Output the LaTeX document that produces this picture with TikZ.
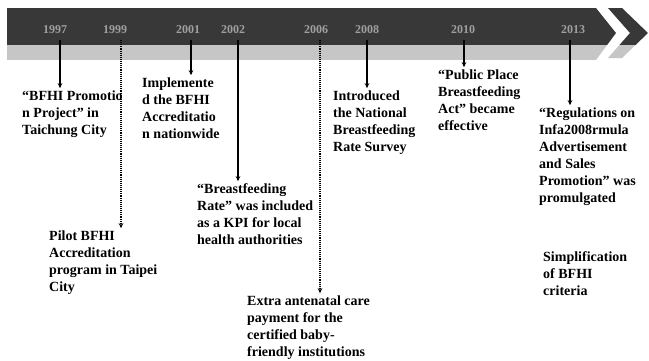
\documentclass[tikz,border=0pt]{standalone}
\usepackage{fontspec}
\setmainfont{Liberation Serif}
\usetikzlibrary{arrows.meta}
\definecolor{banddark}{HTML}{383838}
\definecolor{bandlight}{HTML}{C6C6C6}
\definecolor{yrcol}{HTML}{A0A0A0}
\begin{document}
\begin{tikzpicture}[x=1pt,y=-1pt,
  evt/.style={font=\bfseries\fontsize{14}{17}\selectfont, align=left, anchor=north west, inner sep=0pt},
  yr/.style={font=\bfseries\fontsize{12}{14}\selectfont, text=yrcol, inner sep=0pt},
  arr/.style={-{Stealth[length=5pt,width=4.5pt]}, line width=1.1pt, shorten >=2.5pt},
  darr/.style={arr, densely dotted, line width=1.3pt}]
\useasboundingbox (0,0) rectangle (649,360);
\fill[white] (0,0) rectangle (649,360);
% band
\begin{scope}
  \clip (7,8) -- (596,8) -- (616,33) -- (596,60) -- (7,60) -- cycle;
  \fill[banddark] (0,0) rectangle (649,45);
  \fill[bandlight] (0,45) rectangle (649,60);
\end{scope}
% chevron
\begin{scope}
  \clip (608,8) -- (622,8) -- (648,33) -- (622,58) -- (608,58) -- (630,33) -- cycle;
  \fill[banddark] (600,0) rectangle (649,45);
  \fill[bandlight] (600,45) rectangle (649,60);
\end{scope}
% years
\node[yr] (y1997) at (55,30) {1997};
\node[yr] (y1999) at (115,30) {1999};
\node[yr] (y2001) at (188,30) {2001};
\node[yr] (y2002) at (233,30) {2002};
\node[yr] (y2006) at (316,30) {2006};
\node[yr] (y2008) at (367,30) {2008};
\node[yr] (y2010) at (463,30) {2010};
\node[yr] (y2013) at (573,30) {2013};
% arrow starts
\coordinate (s1997) at (60,40);
\coordinate (s1999) at (121,40);
\coordinate (s2001) at (191,40);
\coordinate (s2002) at (238,40);
\coordinate (s2006) at (320,40);
\coordinate (s2008) at (367,40);
\coordinate (s2010) at (464,40);
\coordinate (s2013) at (570,40);
% events
\node[evt] (t1997) at (22,90.7) {“BFHI Promotio\\n Project” in\\Taichung City};
\node[evt] (t1999) at (49,230.7) {Pilot BFHI\\Accreditation\\program in Taipei\\City};
\node[evt] (t2001) at (142,77.7) {Implemente\\d the BFHI\\Accreditatio\\n nationwide};
\node[evt] (t2002) at (197,183.7) {“Breastfeeding\\Rate” was included\\as a KPI for local\\health authorities};
\node[evt] (t2006) at (247,295.7) {Extra antenatal care\\payment for the\\certified baby-\\friendly institutions};
\node[evt] (t2008) at (333,90.7) {Introduced\\the National\\Breastfeeding\\Rate Survey};
\node[evt] (t2010) at (438,69.7) {“Public Place\\Breastfeeding\\Act” became\\effective};
\node[evt] (t2013) at (539,107.7) {“Regulations on\\Infa2008rmula\\Advertisement\\and Sales\\Promotion” was\\promulgated};
\node[evt] (tsimp) at (543,251.7) {Simplification\\of BFHI\\criteria};
% connectors
\draw[arr]  (s1997) -- (s1997 |- t1997.north);
\draw[darr] (s1999) -- (s1999 |- t1999.north);
\draw[arr]  (s2001) -- (s2001 |- t2001.north);
\draw[arr]  (s2002) -- (s2002 |- t2002.north);
\draw[darr] (s2006) -- (s2006 |- t2006.north);
\draw[arr]  (s2008) -- (s2008 |- t2008.north);
\draw[arr]  (s2010) -- (s2010 |- t2010.north);
\draw[arr]  (s2013) -- (s2013 |- t2013.north);
\end{tikzpicture}
\end{document}
